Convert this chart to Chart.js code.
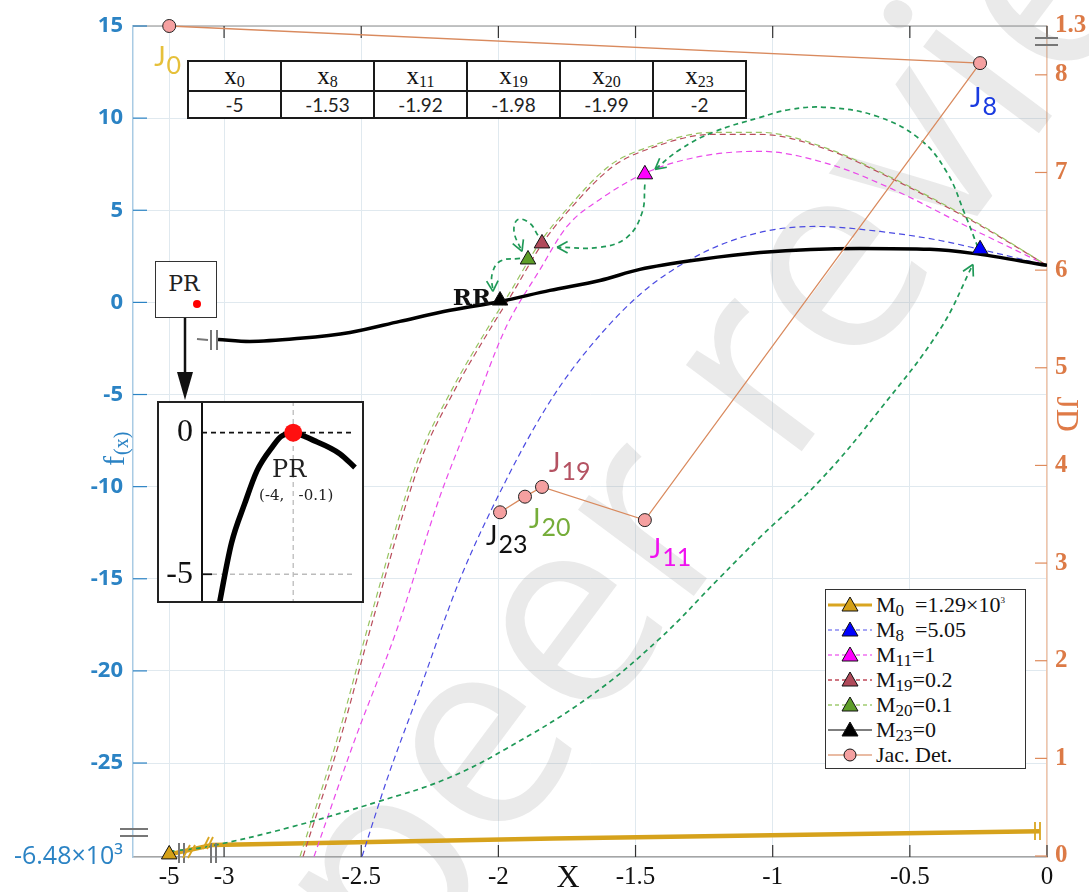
<!DOCTYPE html>
<html>
<head>
<meta charset="utf-8">
<title>Model iterations and Jacobian determinant</title>
<script src="https://cdn.jsdelivr.net/npm/chart.js@4.4.1/dist/chart.umd.min.js"></script>
<style>
  body { margin: 0; background: #fff; }
  #wrap { position: relative; width: 1089px; height: 892px; overflow: hidden; }
  #main { position: absolute; left: 0; top: 0; }
  #inset { position: absolute; left: 157px; top: 401px; }
  #xtable { position: absolute; left: 187px; top: 60px; border-collapse: collapse; background: #fff; }
  #xtable td { border: 2px solid #1a1a1a; width: 91px; height: 25px; padding: 0; text-align: center; line-height: 24px; }
  #xtable tr.h td { font: 25px "Liberation Serif", serif; color: #111; }
  #xtable tr.h sub { font-size: 16px; vertical-align: -3px; line-height: 0; }
  #xtable tr.v td { font: 19px Lato, sans-serif; color: #222; }
  #prbox { position: absolute; left: 155px; top: 261px; width: 60px; height: 55px; border: 1.5px solid #333; background: #fff; }
  #prbox span { position: absolute; left: 0; width: 56px; top: 9px; text-align: center; font: 22px "DejaVu Serif", serif; color: #222; }
  #prbox i { position: absolute; left: 37px; top: 38px; width: 8px; height: 8px; border-radius: 50%; background: #f00; }
  #legend { position: absolute; left: 825px; top: 589px; width: 199px; height: 176px; border: 1.5px solid #333; background: #fff; padding-top: 2px; }
  #legend .row { height: 25px; display: flex; align-items: center; font: 22px "Liberation Serif", serif; color: #111; }
  #legend svg { margin: 0 4px 0 2px; flex: none; }
  #legend sub { font-size: 17px; vertical-align: -4px; line-height: 0; }
  #legend sup { font-size: 9px; vertical-align: 9px; line-height: 0; }
</style>
</head>
<body>
<div id="wrap">
  <canvas id="main" width="1089" height="892"></canvas>
  <table id="xtable"><tr class="h"></tr><tr class="v"></tr></table>
  <div id="prbox"><span>PR</span><i></i></div>
  <canvas id="inset" width="207" height="202"></canvas>
  <div id="legend"></div>
</div>
<script>
// x = -5 sits left of the axis break, drawn at -3.2
const xTicks = [-3.2, -3, -2.5, -2, -1.5, -1, -0.5, 0];
const xTickLabels = ['-5', '-3', '-2.5', '-2', '-1.5', '-1', '-0.5', '0'];
// bottom of f(x) axis is broken: -6.48e3
const yTicks = [-30.1, -25, -20, -15, -10, -5, 0, 5, 10, 15];
const yTickLabels = ['-6.48×10³', '-25', '-20', '-15', '-10', '-5', '0', '5', '10', '15'];
// top of JD axis is broken: 1.3
const y2Ticks = [0, 1, 2, 3, 4, 5, 6, 7, 8, 8.5];
const y2TickLabels = ['0', '1', '2', '3', '4', '5', '6', '7', '8', '1.3'];

// f(x), solid black
const fX = [-3.022, -2.906, -2.723, -2.541, -2.359, -2.176, -1.994, -1.812, -1.630, -1.484, -1.265, -1.046, -0.682, -0.427, -0.270, 0];
const fY = [-2.01, -2.12, -1.95, -1.63, -1.03, -0.43, 0.05, 0.65, 1.19, 1.79, 2.33, 2.71, 2.93, 2.88, 2.66, 2.01];

// models
const m0X = [-3.2, -3.044, -2.7, -1.8, -0.026];
const m0Y = [-29.96, -29.45, -29.35, -29.1, -28.7];
const m8X = [-2.497, -2.406, -2.286, -2.140, -1.976, -1.830, -1.703, -1.484, -1.265, -1.046, -0.846, -0.609, -0.390, -0.244, 0];
const m8Y = [-30.07, -25.89, -21.0, -15.03, -9.77, -5.81, -3.09, 0.43, 2.61, 3.80, 4.12, 3.85, 3.36, 2.88, 2.01];
const m11X = [-2.672, -2.523, -2.370, -2.213, -2.104, -1.976, -1.848, -1.750, -1.630, -1.458, -1.265, -1.046, -0.791, -0.561, -0.270, 0];
const m11Y = [-30.07, -23.72, -17.75, -10.53, -6.35, -1.47, 1.79, 4.12, 5.59, 7.06, 7.92, 8.20, 7.49, 6.13, 3.96, 2.01];
const m19X = [-2.712, -2.577, -2.457, -2.286, -2.158, -2.031, -1.947, -1.837, -1.750, -1.582, -1.458, -1.218, -1.046, -0.802, -0.561, -0.270, 0];
const m19Y = [-30.07, -23.72, -17.21, -8.68, -4.72, -1.47, 0.54, 3.26, 4.88, 7.38, 8.30, 9.12, 9.12, 8.30, 6.68, 4.40, 2.01];
const m20X = [-2.723, -2.588, -2.468, -2.297, -2.169, -2.042, -1.958, -1.848, -1.761, -1.593, -1.466, -1.218, -1.046, -0.802, -0.561, -0.270, 0];
const m20Y = [-30.07, -23.72, -17.21, -8.68, -4.72, -1.47, 0.54, 3.26, 4.88, 7.44, 8.36, 9.23, 9.23, 8.36, 6.73, 4.45, 2.01];

// triangles M0, M8, M11, M19, M20, M23
const mkX = [-3.2, -0.244, -1.466, -1.841, -1.892, -1.994];
const mkY = [-29.96, 2.88, 6.95, 3.20, 2.33, 0.1];

// Jacobian determinant (right axis), J0 sits at the break
const jdX = [-3.2, -0.244, -1.466, -1.841, -1.903, -1.994];
const jdY = [8.5, 8.12, 3.44, 3.78, 3.68, 3.52];
const jdNames = ['0', '8', '11', '19', '20', '23'];

// green iteration arrows
const arrAX = [-3.2, -3.059, -2.760, -2.435, -2.195, -1.976, -1.666, -1.415, -1.199, -1.043, -0.824, -0.609, -0.390, -0.270];
const arrAY = [-29.8, -29.53, -28.49, -27.08, -25.89, -24.26, -21.38, -18.29, -15.03, -12.70, -9.61, -5.81, -1.47, 2.06];
const arrBX = [-0.252, -0.299, -0.365, -0.463, -0.620, -0.802, -0.937, -1.046, -1.218, -1.338, -1.429];
const arrBY = [2.99, 4.78, 7.06, 8.85, 10.10, 10.58, 10.47, 10.04, 9.23, 8.30, 7.22];
const arrCX = [-1.466, -1.476, -1.531, -1.630, -1.786];
const arrCY = [6.40, 4.88, 3.53, 2.99, 2.99];
const arrDX = [-1.856, -1.885, -1.929, -1.943, -1.914];
const arrDY = [3.64, 4.29, 4.50, 3.85, 2.77];
const arrEX = [-1.921, -1.994, -2.023, -2.020];
const arrEY = [2.39, 2.23, 1.52, 0.60];

// zoom on PR
const prX = [-4.66, -4.542, -4.425, -4.317, -4.175, -4.108, -4.0, -3.817, -3.592, -3.458];
const prY = [-6.3, -3.91, -2.50, -1.34, -0.46, -0.14, -0.02, -0.28, -0.74, -1.23];
const prPoint = [-4, 0];

// table
const tableSubs = ['0', '8', '11', '19', '20', '23'];
const tableVals = ['-5', '-1.53', '-1.92', '-1.98', '-1.99', '-2'];

const legendNames = ['M<sub>0</sub>&nbsp; =1.29×10<sup>3</sup>', 'M<sub>8</sub>&nbsp; =5.05', 'M<sub>11</sub>=1',
  'M<sub>19</sub>=0.2', 'M<sub>20</sub>=0.1', 'M<sub>23</sub>=0', 'Jac. Det.'];

const pts = (xs, ys) => xs.map((x, i) => ({ x, y: ys[i] }));

function seg(ctx, x1, y1, x2, y2) {
  ctx.beginPath();
  ctx.moveTo(x1, y1);
  ctx.lineTo(x2, y2);
  ctx.stroke();
}

function subText(ctx, x, y, main, sub, mainFont, subFont, dy) {
  ctx.font = mainFont;
  ctx.fillText(main, x, y);
  const w = ctx.measureText(main).width;
  ctx.font = subFont;
  ctx.fillText(sub, x + w + 1, y + dy);
}

// table
document.querySelector('#xtable tr.h').innerHTML = tableSubs.map(s => `<td>x<sub>${s}</sub></td>`).join('');
document.querySelector('#xtable tr.v').innerHTML = tableVals.map(v => `<td>${v}</td>`).join('');

// legend
const legendStyle = [
  { line: '#d9a520', w: 3, dash: '', fill: '#d4a017', mark: 'tri' },
  { line: '#8a8af2', w: 1.3, dash: '4 3', fill: '#0000ff', mark: 'tri' },
  { line: '#f070f0', w: 1.3, dash: '4 3', fill: '#ff00ff', mark: 'tri' },
  { line: '#c04a5a', w: 1.3, dash: '4 3', fill: '#b04a5a', mark: 'tri' },
  { line: '#a0cc70', w: 1.3, dash: '4 3', fill: '#5e9e28', mark: 'tri' },
  { line: '#555', w: 1.3, dash: '', fill: '#000', mark: 'tri' },
  { line: '#e2a484', w: 1.5, dash: '', fill: '#f5a0a0', mark: 'dot' }
];
document.getElementById('legend').innerHTML = legendNames.map((name, i) => {
  const s = legendStyle[i];
  const mark = s.mark === 'tri'
    ? `<polygon points="22,4 30,18 14,18" fill="${s.fill}" stroke="#111" stroke-width="1"/>`
    : `<circle cx="22" cy="12" r="6" fill="${s.fill}" stroke="#111" stroke-width="1"/>`;
  return `<div class="row"><svg width="44" height="24"><line x1="0" y1="12" x2="44" y2="12" stroke="${s.line}" stroke-width="${s.w}" stroke-dasharray="${s.dash}"/>${mark}</svg><span>${name}</span></div>`;
}).join('');

const dashedModel = (data, color) => ({
  data, borderColor: color, borderWidth: 1.2, borderDash: [6, 4], pointRadius: 0,
  cubicInterpolationMode: 'monotone', yAxisID: 'y'
});
const arrow = data => ({
  data, arrow: true, borderColor: '#1f9957', borderWidth: 1.7, borderDash: [5, 4],
  pointRadius: 0, tension: 0.4, yAxisID: 'y'
});

const jLabelStyle = [
  { dx: -15, dy: 40, color: '#e6c03a' },
  { dx: -10, dy: 44, color: '#1a3be0' },
  { dx: 5, dy: 38, color: '#f010f0' },
  { dx: 7, dy: -15, color: '#b45262' },
  { dx: 4, dy: 31, color: '#76ad3a' },
  { dx: -14, dy: 33, color: '#111' }
];

const decorations = {
  id: 'decorations',
  beforeDatasetsDraw(chart) {
    const { ctx, chartArea: a, scales } = chart;
    ctx.save();
    ctx.lineWidth = 1.5;
    ctx.strokeStyle = '#b0b0b0';
    seg(ctx, a.left, a.top, a.right, a.top);
    ctx.lineWidth = 1.2;
    ctx.strokeStyle = '#333';
    xTicks.slice(1).forEach(v => {
      const px = scales.x.getPixelForValue(v);
      seg(ctx, px, a.bottom, px, a.bottom - 12);
      seg(ctx, px, a.top, px, a.top + 12);
    });
    ctx.strokeStyle = '#2b83c4';
    yTicks.slice(1).forEach(v => {
      const py = scales.y.getPixelForValue(v);
      seg(ctx, a.left, py, a.left + 14, py);
    });
    ctx.strokeStyle = '#de8b5c';
    y2Ticks.slice(0, -1).forEach(v => {
      const py = scales.y2.getPixelForValue(v);
      seg(ctx, a.right - 12, py, a.right, py);
    });

    // watermark, under the marks
    ctx.save();
    ctx.translate(400, 990);
    ctx.rotate(-0.93);
    ctx.fillStyle = 'rgba(150,150,150,0.2)';
    ctx.font = '270px "Open Sans"';
    ctx.textAlign = 'left';
    ctx.textBaseline = 'alphabetic';
    ctx.fillText('peer review', 0, 0);
    ctx.restore();
    ctx.restore();
  },
  afterDatasetsDraw(chart) {
    const { ctx, chartArea: a } = chart;
    ctx.save();
    // arrow heads
    chart.data.datasets.forEach((ds, i) => {
      if (!ds.arrow) return;
      const el = chart.getDatasetMeta(i).data;
      const p = el[el.length - 1], q = el[el.length - 2];
      const ang = Math.atan2(p.y - q.y, p.x - q.x);
      ctx.strokeStyle = ds.borderColor;
      ctx.lineWidth = 1.7;
      [-0.5, 0.5].forEach(d => seg(ctx, p.x, p.y, p.x - 12 * Math.cos(ang + d), p.y - 12 * Math.sin(ang + d)));
    });

    // J labels
    const jEl = chart.getDatasetMeta(1).data;
    ctx.textAlign = 'left';
    ctx.textBaseline = 'alphabetic';
    jEl.forEach((p, i) => {
      const s = jLabelStyle[i];
      ctx.fillStyle = s.color;
      subText(ctx, p.x + s.dx, p.y + s.dy, 'J', jdNames[i], '27px Lato', '25px Lato', 8);
    });

    // RR next to M23
    const rr = chart.getDatasetMeta(0).data[5];
    ctx.fillStyle = '#111';
    ctx.font = 'bold 23px "DejaVu Serif"';
    ctx.textAlign = 'right';
    ctx.fillText('RR', rr.x - 9, rr.y + 4);

    // axis break marks
    ctx.lineWidth = 2;
    ctx.strokeStyle = '#777';
    seg(ctx, a.left - 13, a.bottom - 28, a.left + 15, a.bottom - 28);
    seg(ctx, a.left - 13, a.bottom - 21, a.left + 15, a.bottom - 21);
    seg(ctx, a.right - 12, a.top + 12, a.right + 11, a.top + 12);
    seg(ctx, a.right - 12, a.top + 19, a.right + 11, a.top + 19);
    [179, 184, 211, 216].forEach(px => seg(ctx, px, a.bottom - 14, px, a.bottom + 6));
    seg(ctx, 197, 339, 208, 340);
    seg(ctx, 211, 330, 211, 350);
    seg(ctx, 217, 330, 217, 350);
    ctx.strokeStyle = '#d9a520';
    ctx.lineWidth = 1.8;
    seg(ctx, 183, a.bottom + 1, 190, a.bottom - 12);
    seg(ctx, 188, a.bottom + 1, 195, a.bottom - 12);
    seg(ctx, 203, a.bottom - 8, 209, a.bottom - 20);
    seg(ctx, 207, a.bottom - 8, 213, a.bottom - 20);
    seg(ctx, a.right - 12, a.bottom - 35, a.right - 12, a.bottom - 17);
    seg(ctx, a.right - 7, a.bottom - 35, a.right - 7, a.bottom - 17);

    // PR box -> zoom arrow
    ctx.strokeStyle = '#111';
    ctx.fillStyle = '#111';
    ctx.lineWidth = 2.5;
    seg(ctx, 185, 318, 185, 376);
    ctx.beginPath();
    ctx.moveTo(177, 372); ctx.lineTo(193, 372); ctx.lineTo(185, 400); ctx.closePath();
    ctx.fill();

    // axis titles
    ctx.textAlign = 'center';
    ctx.textBaseline = 'middle';
    ctx.font = '32px "Liberation Serif"';
    ctx.fillText('X', 568, 879);
    ctx.save();
    ctx.translate(124, 442);
    ctx.rotate(-Math.PI / 2);
    ctx.fillStyle = '#2b83c4';
    ctx.textAlign = 'left';
    ctx.textBaseline = 'alphabetic';
    subText(ctx, -24, 0, 'f', '(x)', '30px "Liberation Serif"', '20px "Liberation Serif"', 4);
    ctx.restore();
    ctx.save();
    ctx.translate(1057, 414);
    ctx.rotate(Math.PI / 2);
    ctx.fillStyle = '#df7a47';
    ctx.font = '32px "Liberation Serif"';
    ctx.textAlign = 'center';
    ctx.textBaseline = 'alphabetic';
    ctx.fillText('JD', 0, 0);
    ctx.restore();
    ctx.restore();
  }
};

new Chart(document.getElementById('main'), {
  type: 'line',
  data: {
    datasets: [
      {
        data: pts(mkX, mkY), showLine: false, yAxisID: 'y', clip: false,
        pointStyle: 'triangle', pointRadius: 9,
        pointBackgroundColor: ['#d4a017', '#0000ff', '#ff00ff', '#b04a5a', '#5e9e28', '#000'],
        pointBorderColor: '#111', pointBorderWidth: 1
      },
      {
        data: pts(jdX, jdY), yAxisID: 'y2', clip: false, borderColor: '#d98a5e', borderWidth: 1.3,
        pointRadius: 6.5, pointBackgroundColor: '#f5a0a0', pointBorderColor: '#222', pointBorderWidth: 1
      },
      {
        data: pts(fX, fY), yAxisID: 'y', borderColor: '#000', borderWidth: 3.5, pointRadius: 0,
        cubicInterpolationMode: 'monotone'
      },
      arrow(pts(arrAX, arrAY)),
      arrow(pts(arrBX, arrBY)),
      arrow(pts(arrCX, arrCY)),
      arrow(pts(arrDX, arrDY)),
      arrow(pts(arrEX, arrEY)),
      dashedModel(pts(m20X, m20Y), '#98c462'),
      dashedModel(pts(m19X, m19Y), '#b94e5c'),
      dashedModel(pts(m11X, m11Y), '#ea4aea'),
      dashedModel(pts(m8X, m8Y), '#4b4be2'),
      {
        data: pts(m0X, m0Y), yAxisID: 'y', borderColor: '#d6a21c', borderWidth: 4.5, pointRadius: 0,
        tension: 0
      }
    ]
  },
  options: {
    responsive: false,
    animation: false,
    events: [],
    layout: { padding: { top: 26, left: 0, right: 0, bottom: 0 } },
    plugins: { legend: { display: false }, tooltip: { enabled: false } },
    scales: {
      x: {
        type: 'linear', min: -3.332, max: 0,
        afterBuildTicks: s => { s.ticks = xTicks.map(v => ({ value: v })); },
        afterFit: s => { s.height = 35; },
        ticks: {
          callback: (v, i) => xTickLabels[i], color: '#111', autoSkip: false, maxRotation: 0,
          font: { family: 'Liberation Serif', size: 25 }, padding: 5
        },
        grid: { color: '#e0e9ef', drawTicks: false },
        border: { color: '#a5a5a5', width: 1.5 }
      },
      y: {
        position: 'left', min: -30.1, max: 15,
        afterBuildTicks: s => { s.ticks = yTicks.map(v => ({ value: v })); },
        afterFit: s => { s.width = 133; },
        ticks: {
          callback: (v, i) => yTickLabels[i], color: '#2b83c4', padding: 10,
          font: ctx => ctx.index === 0
            ? { family: 'Open Sans', size: 25 }
            : { family: 'Open Sans', size: 22, weight: 'bold' }
        },
        grid: { color: '#e0e9ef', drawTicks: false },
        border: { color: '#a9cbe4', width: 1.5 }
      },
      y2: {
        position: 'right', min: -0.01, max: 8.5,
        afterBuildTicks: s => { s.ticks = y2Ticks.map(v => ({ value: v })); },
        afterFit: s => { s.width = 42; },
        ticks: {
          callback: (v, i) => y2TickLabels[i], color: '#dc7a46', padding: 8,
          font: { family: 'Liberation Serif', size: 25, weight: 'bold' }
        },
        grid: { drawOnChartArea: false, drawTicks: false },
        border: { color: '#f1c6ab', width: 1.5 }
      }
    }
  },
  plugins: [decorations]
});

// zoom box around PR
const insetDeco = {
  id: 'insetDeco',
  beforeDraw(chart) {
    const { ctx, width, height } = chart;
    ctx.save();
    ctx.fillStyle = '#fff';
    ctx.fillRect(0, 0, width, height);
    ctx.restore();
  },
  beforeDatasetsDraw(chart) {
    const { ctx, chartArea: a, height, scales: { x, y } } = chart;
    ctx.save();
    ctx.lineWidth = 1.3;
    ctx.setLineDash([5, 4]);
    ctx.strokeStyle = '#bbb';
    const px = x.getPixelForValue(prPoint[0]);
    seg(ctx, px, 0, px, height);
    const y5 = y.getPixelForValue(-5);
    seg(ctx, a.left + 10, y5, a.right, y5);
    ctx.strokeStyle = '#111';
    ctx.lineWidth = 1.8;
    const y0 = y.getPixelForValue(0);
    seg(ctx, a.left, y0, a.right, y0);
    ctx.setLineDash([]);
    seg(ctx, a.left, y5, a.left + 10, y5);
    ctx.restore();
  },
  afterDraw(chart) {
    const { ctx, width, height, chartArea: a, scales: { x, y } } = chart;
    ctx.save();
    // axis line over the whole box height
    ctx.strokeStyle = '#111';
    ctx.lineWidth = 2;
    seg(ctx, a.left, 0, a.left, height);
    ctx.fillStyle = '#222';
    ctx.textAlign = 'center';
    ctx.textBaseline = 'alphabetic';
    const px = x.getPixelForValue(prPoint[0]);
    const py = y.getPixelForValue(prPoint[1]);
    ctx.font = '24px "DejaVu Serif"';
    ctx.fillText('PR', px - 4, py + 44);
    ctx.font = '15px "DejaVu Serif"';
    ctx.fillText('(-4,   -0.1)', px + 3, py + 67);
    ctx.strokeStyle = '#222';
    ctx.strokeRect(1, 1, width - 2, height - 2);
    ctx.restore();
  }
};

new Chart(document.getElementById('inset'), {
  type: 'line',
  data: {
    datasets: [
      {
        data: [{ x: prPoint[0], y: prPoint[1] }], showLine: false, clip: false,
        pointRadius: 9, pointBackgroundColor: '#ff1010', pointBorderWidth: 0
      },
      {
        data: pts(prX, prY), borderColor: '#000', borderWidth: 5.5, pointRadius: 0,
        cubicInterpolationMode: 'monotone', clip: false
      }
    ]
  },
  options: {
    responsive: false,
    animation: false,
    events: [],
    layout: { padding: 0 },
    plugins: { legend: { display: false }, tooltip: { enabled: false } },
    scales: {
      x: { type: 'linear', min: -4.8, max: -3.458, display: false },
      y: {
        // chart area is inset by the tick label padding top and bottom
        min: -5.02, max: 0.123,
        afterBuildTicks: s => { s.ticks = [{ value: -5 }, { value: 0 }]; },
        afterFit: s => { s.width = 45; },
        ticks: { color: '#111', padding: 9, font: { family: 'Liberation Serif', size: 32 } },
        grid: { display: false, drawTicks: false },
        border: { color: '#111', width: 2 }
      }
    }
  },
  plugins: [insetDeco]
});
</script>
</body>
</html>
